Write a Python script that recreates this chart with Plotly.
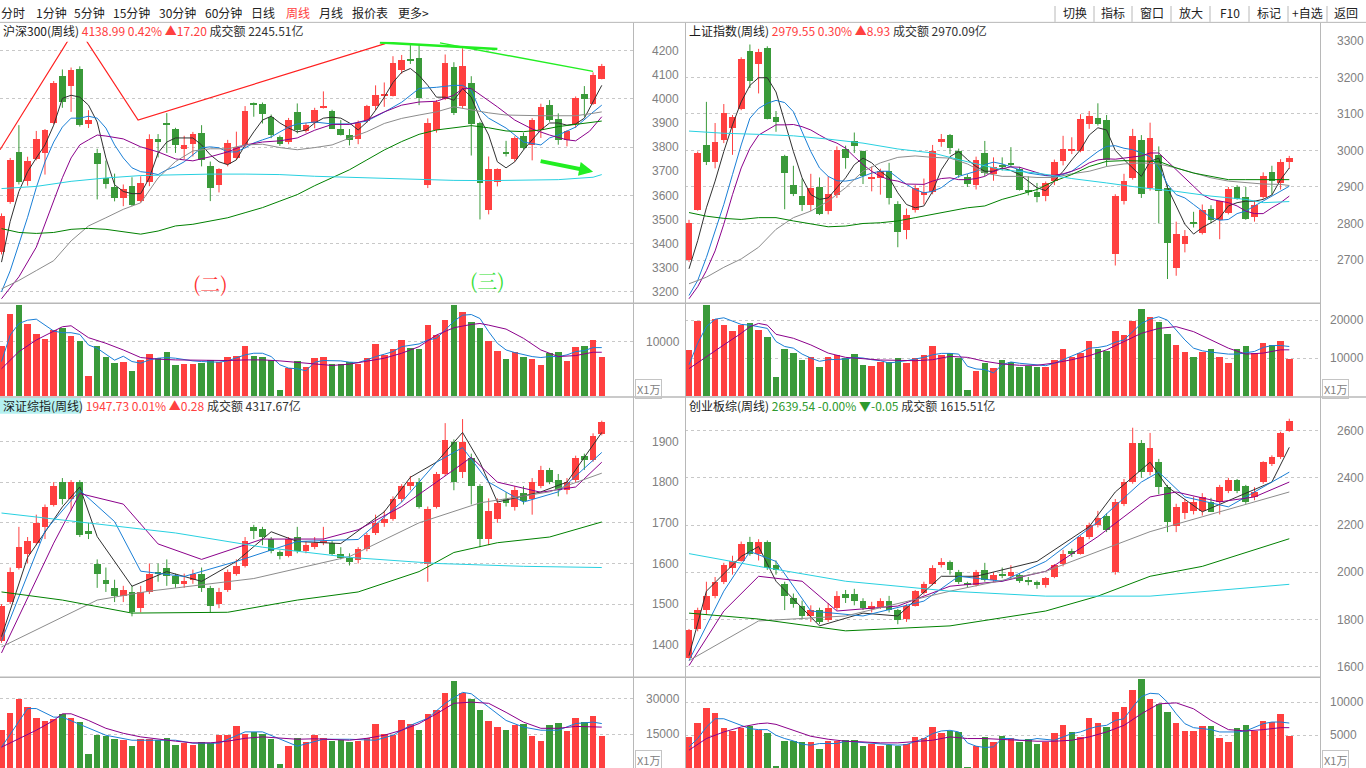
import plotly.graph_objects as go

W, H = 1366, 768
UP, DOWN = "#ff4040", "#3a9a3a"
MA_COLORS = ["#303030", "#1a7fd6", "#8b008b", "#8c8c8c", "#008000", "#28d0e0"]
VMA_COLORS = ["#1a7fd6", "#8b008b"]
GRID = "#c8c8c8"
FRAME = "#b8b8b8"
LABEL = "#808080"
CJK = "Noto Sans CJK SC"
NUM = "Liberation Sans"

IDX = list(range(70))

# ---------------- 沪深300 (weekly) ----------------
tl_open = [3365,3575,3782,3661,3751,3775,3901,4097,4056,4127, 3897,3775,3675,3636,3592,3640,3576,3656,3834,3900,
           3875,3793,3814,3858,3724,3644,3730,3754,3809,3983, 3981,3928,3842,3823,3946,3867,3902,3967,3949,3875,
           3850,3834,3908,3971,4015,4015,4122,4168,4171,3642, 3871,4001,4134,3970,4065,3901,3542,3658,3782,3751,
           3847,3809,3871,3974,3916,3830,3898,4023,3981,4084]
tl_high = [3525,3755,3891,3760,3867,3875,4074,4122,4130,4135, 3953,3793,3744,3690,3645,3675,3679,3853,3854,3941,
           3880,3847,3863,3891,3740,3712,3830,3864,3970,3985, 3985,3935,3848,3921,3981,3900,3963,4031,3955,3912,
           3875,3910,3975,4056,4068,4177,4182,4223,4228,3919, 3995,4184,4152,4210,4094,3905,3761,3712,3826,3845,
           3860,3920,3980,3995,3940,3870,4010,4053,4110,4145]
tl_low = [3355,3565,3645,3640,3745,3686,3895,3963,3946,3885, 3879,3583,3628,3575,3555,3555,3570,3638,3757,3776,
          3776,3751,3761,3720,3576,3612,3720,3747,3795,3926, 3898,3837,3805,3812,3857,3860,3878,3960,3875,3848,
          3807,3812,3900,3953,3967,4010,4104,4145,3974,3630, 3860,3995,3933,3960,3765,3500,3521,3637,3761,3740,
          3790,3745,3838,3905,3810,3803,3880,3926,3975,4081]
tl_close = [3517,3747,3658,3743,3834,3871,4065,3990,4122,3891, 3912,3732,3650,3592,3628,3562,3653,3834,3826,3891,
            3809,3809,3857,3747,3633,3710,3820,3801,3949,3977, 3937,3850,3814,3912,3871,3894,3953,3973,3878,3850,
            3830,3902,3970,4019,4022,4148,4163,4158,4004,3900, 3987,4152,3944,4138,3896,3654,3710,3710,3771,3837,
            3798,3912,3967,3912,3830,3867,4004,4001,4101,4139]
tl_vol = [9150,15090,16730,13270,11450,10550,12180,12490,11030,10180, 3760,9270,7270,6180,6360,4540,6670,7820,7030,8180,
          5820,6000,6000,6180,6600,6300,7270,7450,9270,7390, 7210,6670,1090,5150,6480,5390,7090,7210,6000,6000,
          6300,5880,7090,9640,7640,8730,10360,8910,8730,13090, 11150,14000,16730,15450,13640,12550,10060,8360,6910,8180,
          7270,6910,5820,8000,8180,6550,9090,9270,10360,7270]
tl_ma5 = [3323,3492,3616,3698,3755,3809,3891,4002,4015,4007, 3974,3904,3755,3644,3616,3607,3607,3673,3776,3821,
          3838,3838,3838,3809,3768,3739,3727,3747,3809,3863, 3912,3928,3900,3879,3863,3871,3900,3920,3924,3920,
          3900,3871,3904,3953,4007,4068,4110,4126,4097,4056, 4007,4007,3994,4043,4007,3920,3850,3739,3714,3739,
          3788,3830,3871,3900,3900,3891,3896,3920,3986,4056]
tl_ma10_x = list(range(37)) + [38,40,42,44,46,48,50,52,53,54,55,56,58,60,62,63,64,66,68,69]
tl_ma10 = [3200,3287,3398,3509,3632,3739,3821,3883,3920,3920, 3928,3920,3879,3809,3755,3714,3698,3694,3686,3706,
           3719,3739,3768,3797,3801,3797,3780,3780,3797,3817, 3830,3842,3863,3883,3896,3900,3904,
           3896,3896,3908,3945,3986,4043,4048,4056,4056,4035,3953,3920,3879,3821,3809,3838,3850,3883,3945,3974]
tl_ma20_x = [0,2,4,6,7,8,9,10,11,12,14,16,18,20,22,24,26,28,30,32,34,36,38,40,42,44,46,48,50,52,
             53,54,55,57,59,61,63,65,66,67.6,69]
tl_ma20 = [3171,3262,3385,3575,3673,3755,3809,3830,3850,3846,3834,3801,3780,3751,3743,3760,3780,3809,3821,3826,
           3838,3870,3894,3894,3912,3946,3974,3987,3990,4015,4042,4043,4018,3967,3912,3875,3850,3830,3826,3866,3926]
EVEN_X = list(range(0, 70, 2)) + [69]
tl_ma30 = [3212,3247,3288,3329,3411,3473,3507,3542,3569,3672,3740,3784,3793,3793,3809,3812,3798,3789,3798,3809,
           3837,3864,3898,3919,3933,3946,3967,3953,3942,3933,3930,3930,3930,3930,3940,3946]
tl_ma60 = [3462,3446,3442,3446,3459,3463,3459,3448,3439,3452,3473,3480,3493,3507,3528,3549,3576,3603,3640,3672,
           3706,3747,3788,3823,3853,3871,3880,3889,3880,3867,3864,3871,3885,3894,3905,3908]
QUAD_X = list(range(0, 70, 4)) + [69]
tl_ma120 = [3628,3637,3658,3672,3682,3686,3688,3688,3686,3679,3675,3669,3665,3662,3661,3662,3665,3675,3686]
tl_vma5 = [6300,11150,13270,13870,14060,12970,11880,11580,11580,11270, 9330,8730,7640,6550,7270,6300,6000,6600,6910,7030,
           6910,6600,6420,6300,6180,6180,6420,7030,7520,7820, 7820,7210,5700,5090,4970,4610,6180,6480,6420,6420,
           6180,6120,6600,7210,7640,8120,9030,9330,9520,10240, 10550,12060,13700,14790,14910,14180,11760,9640,8420,7940,
           7520,7210,7030,7210,7210,7520,8120,8300,8850,8850]
tl_vma10_x = [0,2,4,6,7,8,10,12,14,16,18,20,22,24,26,28,30,32,34,36,38,40,42,44,46,48,50,52,54,55,56,58,60,62,64,66,68,69]
tl_vma10 = [4970,8120,10240,11880,12670,12850,10670,9640,8420,7030,6730,6600,6550,6550,6480,6600,6600,6420,6120,5820,
            5580,5820,6420,6910,7820,9030,11150,12490,13090,13270,12970,12240,10550,8420,7210,7390,8000,8000]
# hand-drawn marks on the 沪深300 window
tl_red_path_x = [-0.17, 8.67, 15.7, 44.1]
tl_red_path_y = [3789, 4301, 3912, 4229]
tl_green_top_x = [43.5, 57.0]
tl_green_top_y = [4234, 4207]
tl_green_down_x = [50.4, 68.0]
tl_green_down_y = [4232, 4114]
tl_arrow_x = [61.8, 68.0]
tl_arrow_y = [3743, 3698]
tl_marks = [("(二)", 24.0, 3233, "#ff3030"), ("(三)", 55.9, 3245, "#33e033")]

# ---------------- 上证指数 (weekly) ----------------
tr_open = [2701,2839,3015,2968,3029,3061,3115,3273,3237,3280, 3092,2985,2907,2875,2852,2900,2834,2879,3004,3026,
           2999,2924,2926,2945,2855,2782,2837,2878,2888,3024, 3042,2999,2929,2907,2994,2936,2960,2967,2950,2891,
           2886,2875,2916,2972,3000,2999,3072,3090,3083,2716, 2861,2926,3029,2899,2988,2898,2680,2744,2805,2775,
           2841,2811,2830,2900,2873,2818,2872,2943,2911,2968]
tr_high = [2810,2997,3133,3075,3127,3097,3255,3290,3278,3285, 3108,2988,2958,2923,2936,2926,2929,3011,3013,3049,
           2999,2956,2950,2966,2861,2841,2905,2923,3015,3045, 3045,3005,2935,2983,3026,2981,2981,3009,2955,2929,
           2911,2915,2975,3040,3036,3099,3108,3129,3097,2880, 2936,3059,3042,3076,3011,2905,2805,2782,2832,2852,
           2850,2862,2900,2905,2900,2863,2940,2958,2976,2985]
tr_low = [2695,2835,2960,2951,3020,2988,3110,3171,3156,3085, 3051,2839,2875,2834,2834,2823,2825,2870,2950,2993,
          2908,2888,2879,2852,2735,2757,2830,2852,2880,3010, 2990,2925,2900,2893,2930,2917,2945,2955,2890,2877,
          2858,2861,2905,2959,2990,2995,3059,3068,2956,2685, 2852,2920,2870,2890,2800,2648,2657,2721,2789,2770,
          2800,2757,2825,2865,2810,2805,2868,2879,2893,2950]
tr_close = [2802,2993,2970,3024,3104,3092,3251,3192,3271,3088, 3079,2940,2881,2852,2899,2827,2882,3002,2981,3013,
            2932,2928,2945,2870,2778,2825,2899,2888,2999,3033, 3008,2934,2908,2974,2938,2956,2957,2962,2893,2887,
            2872,2911,2970,3004,3006,3086,3095,3074,2974,2877, 2917,3040,2881,3035,2890,2746,2773,2766,2800,2839,
            2809,2861,2896,2868,2814,2852,2932,2918,2970,2980]
tr_vol = [12170,20000,24100,20440,18880,17130,18700,19400,17390,15670, 5220,12610,11310,9560,10260,7650,10440,10860,10000,11040,
          8250,7910,9140,8960,10000,8690,10180,10860,13210,10860, 11310,10000,1720,6680,8690,7390,9480,8960,7830,8090,
          7830,7830,9560,12610,10440,11310,14520,12610,11910,17130, 16080,20000,23050,21040,19580,16530,13660,11750,10440,11750,
          12350,10440,8690,12350,13310,11310,14180,13470,14700,9740]
tr_ma5 = [2676,2753,2843,2916,2997,3070,3133,3178,3199,3199, 3160,3079,2997,2925,2879,2866,2870,2898,2925,2961,
          2979,2966,2943,2925,2884,2852,2843,2848,2888,2947, 2983,2997,2975,2956,2943,2943,2952,2945,2934,2916,
          2898,2890,2916,2943,2974,3002,3042,3062,3056,3000, 2975,2952,2929,2970,2979,2898,2848,2798,2771,2789,
          2802,2816,2848,2857,2861,2861,2866,2878,2920,2952]
tr_ma10 = [2603,2644,2707,2780,2852,2934,3015,3088,3115,3129, 3137,3131,3106,3051,2997,2952,2929,2917,2916,2920,
           2929,2938,2943,2943,2925,2907,2893,2884,2888,2898, 2916,2929,2936,2943,2961,2968,2963,2956,2947,2938,
           2934,2931,2929,2934,2943,2961,2979,2997,3011,3013, 3006,3002,2993,2983,2952,2907,2879,2870,2852,2834,
           2816,2809,2811,2827,2834,2848,2861,2875,2888,2902]
tr_ma20 = [2594,2627,2671,2725,2798,2879,2952,3006,3042,3056, 3070,3070,3071,3065,3056,3042,3029,3020,3006,2983,
           2961,2943,2929,2920,2916,2908,2907,2907,2916,2923, 2925,2920,2920,2923,2929,2943,2950,2955,2954,2947,
           2938,2932,2932,2936,2943,2952,2966,2974,2977,2976, 2979,2983,2985,2993,2993,2970,2947,2925,2902,2879,
           2866,2861,2857,2848,2834,2827,2827,2843,2857,2875]
tr_ma30 = [2635,2653,2680,2703,2735,2784,2816,2834,2861,2898,2943,2966,2981,2985,2981,2979,2963,2938,2929,2929,
           2926,2926,2936,2943,2956,2963,2966,2963,2952,2938,2925,2916,2911,2908,2907,2904]
tr_ma60 = [2830,2820,2814,2811,2816,2816,2807,2798,2791,2793,2800,2802,2807,2816,2825,2834,2843,2848,2866,2879,
           2893,2916,2934,2956,2970,2972,2972,2970,2952,2938,2929,2920,2920,2920,2920,2920]
tr_ma120_x = [0,4,8,12,16,20,24,28,32,36,40,44,48,52,56,60,64,66,69]
tr_ma120 = [3053,3047,3044,3040,3031,3020,3004,2993,2969,2947,2938,2923,2911,2898,2888,2875,2866,2857,2860]
tr_vma5 = [8250,13920,18280,20260,20630,19740,18880,18700,18280,17830, 14360,13050,12610,11040,10000,9140,9560,9560,9740,10180,
           10000,9560,9300,8690,8960,9300,9740,10180,10860,11230, 11230,11040,7830,7130,6950,6080,8250,8960,8620,8430,
           8250,7990,8620,9560,10440,11490,12610,12790,13210,14180, 14780,16970,19140,20260,20890,20000,17390,14780,12610,11910,
           11570,11310,11040,11040,11310,11750,12790,13310,13310,13050]
tr_vma10_x = [0,2,4,6,7,8,9,10,12,14,16,18,20,22,24,26,28,30,32,34,36,38,40,42,44,46,48,50,52,54,56,58,60,62,64,66,68,69]
tr_vma10 = [7210,10440,13470,16530,18280,19140,18700,16270,15220,13470,11310,10180,9820,9480,9400,9300,9560,10440,
            10180,9140,8430,8090,8090,8690,9560,10600,12170,14360,16530,17830,18280,16970,14780,12610,11040,11310,12170,12170]

# ---------------- 深证综指 (weekly) ----------------
bl_open = [1410,1507,1590,1625,1650,1690,1745,1800,1760,1800, 1680,1600,1560,1540,1520,1530,1490,1530,1580,1590,
           1570,1550,1560,1575,1540,1500,1535,1575,1595,1690, 1685,1660,1628,1620,1665,1630,1640,1650,1650,1625,
           1615,1610,1635,1675,1700,1710,1760,1790,1800,1600, 1740,1820,1900,1825,1860,1790,1660,1710,1760,1740,
           1775,1760,1790,1830,1805,1780,1805,1865,1855,1920]
bl_high = [1500,1590,1690,1665,1720,1745,1800,1810,1805,1805, 1700,1610,1590,1560,1545,1545,1545,1600,1600,1610,
           1575,1575,1585,1590,1545,1540,1585,1610,1665,1695, 1690,1665,1632,1665,1690,1655,1665,1690,1655,1640,
           1625,1640,1675,1720,1730,1765,1795,1815,1810,1740, 1825,1945,1905,1955,1870,1795,1760,1760,1775,1790,
           1790,1810,1840,1835,1820,1810,1865,1870,1920,1951]
bl_low = [1405,1500,1585,1600,1645,1660,1740,1745,1730,1665, 1660,1540,1530,1505,1505,1470,1480,1525,1555,1545,
          1540,1540,1550,1530,1480,1490,1530,1570,1590,1660, 1645,1625,1610,1615,1625,1625,1635,1645,1620,1610,
          1595,1600,1630,1670,1690,1705,1750,1780,1735,1555, 1735,1815,1780,1810,1745,1640,1645,1700,1740,1730,
          1745,1720,1785,1795,1765,1770,1800,1830,1850,1915]
bl_close = [1495,1580,1640,1655,1700,1740,1790,1760,1800,1670, 1672,1575,1550,1520,1535,1480,1530,1575,1575,1570,
            1550,1558,1575,1540,1495,1530,1580,1595,1655,1680, 1665,1630,1618,1660,1630,1645,1650,1655,1625,1615,
            1605,1635,1670,1700,1710,1760,1790,1800,1740,1735, 1820,1905,1800,1900,1790,1660,1730,1750,1750,1780,
            1755,1800,1830,1800,1780,1800,1860,1855,1915,1948]
bl_vol = [17080,23880,30000,26670,22080,20830,21530,23610,21810,20140, 6670,15000,14580,13330,12920,10000,13330,13330,12920,13750,
          10420,11250,10420,11670,11250,15000,15000,18750,15420,16110, 15420,13000,2500,10000,13750,11700,15000,13750,12100,12900,
          11700,12100,13750,19600,15400,15000,21250,19600,17000,23750, 25400,32300,37500,32300,30000,25400,20800,18300,17100,19200,
          19600,14600,12500,19200,20000,16700,22100,20400,22900,14200]
bl_ma5_x = [0,3,7,9,11,15,19,23,27,31,34,39,44,47,50,53,55,57,62,65,69]
bl_ma5 = [1420,1615,1739,1788,1666,1544,1580,1556,1605,1678,1654,1649,1727,1812,1849,1922,1849,1751,1776,1800,1922]
bl_ma10_x = [0,5,9,13,16,21,27,34,41,46,50,53,56,60,64,69]
bl_ma10 = [1410,1680,1780,1703,1581,1568,1605,1654,1659,1751,1849,1885,1800,1751,1776,1873]
bl_ma20_x = [0,6,9,14,18,23,30,37,41,46,50,54,57,62,66,69]
bl_ma20 = [1380,1650,1772,1746,1648,1610,1660,1660,1683,1740,1800,1861,1800,1775,1788,1849]
bl_ma30_x = [0,11,17,29,40,48,55,63,69]
bl_ma30 = [1395,1510,1532,1563,1617,1700,1749,1776,1822]
bl_ma60_x = [0,7,15,26,34,41,48,52,57,63,69]
bl_ma60 = [1530,1510,1478,1480,1510,1530,1580,1627,1651,1665,1702]
bl_ma120_x = [0,10,20,30,40,50,60,69]
bl_ma120 = [1724,1700,1675,1640,1615,1600,1593,1590]
bl_vma5_x = [0,3,4,6,7,12,15,20,22,25,28,30,34,37,40,43,45,47,49,51,53,54,56,58,60,62,64,66,68,69]
bl_vma5 = [9580,25800,25800,22200,22200,14580,12500,12500,11250,11250,16000,16000,10000,12900,12900,12500,14580,
           18750,21700,28000,32600,32000,26400,20800,18000,16700,16700,19500,20100,19500]
bl_vma10_x = [0,2,4,6,7,8,10,12,14,16,18,20,22,24,26,28,30,32,34,36,38,40,42,44,46,48,50,52,54,56,58,60,62,64,66,68,69]
bl_vma10 = [9580,13300,16700,20800,23600,23600,20800,17500,15400,13900,12900,12100,11400,11400,12100,13300,13900,13300,
            12900,13100,12900,12500,13300,14600,16700,19500,23600,28000,28500,28000,24200,20100,17500,17500,18300,18000,18000]

# ---------------- 创业板综 (weekly) ----------------
br_open = [1640,1760,1840,1900,1960,2020,2050,2130,2080,2130, 2030,1950,1890,1860,1815,1840,1800,1850,1910,1910,
           1880,1845,1855,1880,1840,1805,1860,1915,1950,2030, 2045,2000,1955,1945,2010,1970,1995,1985,1990,1965,
           1960,1945,1980,2035,2090,2080,2150,2200,2240,2000, 2290,2382,2550,2424,2466,2361,2195,2250,2260,2260,
           2300,2300,2345,2390,2365,2320,2385,2460,2490,2600]
br_high = [1760,1850,1960,1980,2040,2070,2130,2150,2140,2135, 2050,1960,1910,1880,1860,1850,1870,1920,1925,1930,
           1890,1875,1890,1900,1845,1865,1925,1960,2030,2060, 2050,2010,1960,2010,2040,2000,2020,2030,1995,1980,
           1965,1980,2035,2095,2100,2155,2210,2260,2250,2310, 2395,2612,2560,2590,2480,2370,2290,2310,2320,2335,
           2315,2370,2400,2395,2370,2360,2470,2495,2595,2650]
br_low = [1635,1750,1820,1890,1950,1990,2045,2070,2050,2010, 1990,1840,1850,1800,1790,1780,1790,1840,1870,1860,
          1840,1830,1845,1830,1780,1790,1855,1905,1945,2020, 1990,1950,1935,1940,1960,1960,1975,1975,1955,1945,
          1930,1935,1975,2025,2065,2075,2140,2190,2170,1990, 2280,2375,2400,2410,2330,2170,2170,2225,2245,2240,
          2285,2245,2335,2335,2290,2305,2375,2450,2480,2595]
br_close = [1755,1840,1900,1960,2030,2050,2120,2080,2130,2020, 2010,1900,1865,1815,1840,1790,1850,1900,1890,1880,
            1850,1860,1880,1840,1800,1860,1920,1950,2020,2045, 2010,1960,1945,2000,1970,1990,1985,2000,1965,1960,
            1945,1975,2030,2080,2080,2150,2200,2230,2180,2300, 2382,2550,2424,2529,2361,2214,2277,2298,2298,2319,
            2256,2361,2390,2345,2300,2340,2466,2487,2592,2640]
br_vol = [4845,6840,9090,8340,6090,5640,6090,6390,5850,5340, 345,4140,4140,3990,3990,2895,4140,4245,4395,4395,
          3345,3645,3345,3495,3345,3645,4845,4695,6345,5340, 5745,5595,300,3345,4845,4095,4995,4650,3990,4500,
          3645,3990,5340,6645,5595,4845,7695,6840,6240,8595, 9345,11895,13545,10545,9750,8595,6945,5745,5745,6495,
          6495,4695,3990,6195,6645,5745,7245,7095,8295,4995]
br_ma5_x = [0,2,6,8,10,15,20,24,29,33,40,46,49,53,55,59,63,67,69]
br_ma5 = [1647,1920,2067,2109,1962,1773,1827,1815,1983,1983,2046,2193,2340,2466,2361,2256,2319,2382,2529]
br_ma10_x = [0,4,7,10,14,20,27,31,36,41,47,52,54,57,62,65,69]
br_ma10 = [1626,1920,2088,2046,1836,1815,1878,1983,1962,2046,2214,2382,2424,2319,2277,2340,2424]
br_ma20_x = [0,4,8,13,17,24,30,36,41,47,53,56,61,65,69]
br_ma20 = [1605,1836,1983,1962,1836,1857,1941,1962,2004,2151,2319,2340,2298,2319,2382]
br_ma30_x = [0,8,18,30,41,47,53,59,69]
br_ma30 = [1626,1794,1815,1920,2004,2088,2172,2235,2340]
br_ma60_x = [0,8,18,30,41,47,53,59,69]
br_ma60 = [1827,1802,1752,1773,1836,1899,1983,2025,2142]
br_ma120_x = [0,8,18,30,41,53,69]
br_ma120 = [2079,2025,1962,1920,1899,1899,1949]
br_vma5 = [3245,4500,6240,7495,7495,7000,6495,5995,5850,5850, 4995,4500,4140,3645,3495,3745,3745,3745,4095,3990,
           3845,3745,3645,3495,3495,3595,3990,4500,5245,5645, 5745,5495,3845,3345,3145,3245,4500,4500,4245,4245,
           4500,4350,4245,4745,5245,5495,5995,6345,6495,7245, 7495,9250,10845,11345,11245,9995,8245,6745,6145,5995,
           5850,5495,5495,5495,5645,6245,6745,6995,6995,6845]
br_vma10_x = [0,2,4,6,8,9,10,12,14,16,18,20,22,24,26,28,30,32,34,36,38,40,42,44,46,48,50,52,54,56,58,60,62,64,66,68,69]
br_vma10 = [2745,4500,5495,6245,6745,6845,6645,5745,4845,4395,4095,3990,3845,3845,3990,4245,4745,4500,4500,4350,
            4245,4095,4095,4245,4745,5495,6495,8245,9745,9895,8995,7245,5850,5645,5850,6145,6145]

# ---------------- headers ----------------
titles = [
    ("沪深300(周线)", "4138.99 0.42% ▲17.20", "2245.51亿", UP),
    ("上证指数(周线)", "2979.55 0.30% ▲8.93", "2970.09亿", UP),
    ("深证综指(周线)", "1947.73 0.01% ▲0.28", "4317.67亿", UP),
    ("创业板综(周线)", "2639.54 -0.00% ▼-0.05", "1615.51亿", "#2e9a2e"),
]
price_ticks = [list(range(3200, 4201, 100)), list(range(2700, 3301, 100)),
               list(range(1400, 1901, 100)), list(range(1600, 2601, 200))]
price_grid = [list(range(3200, 4201, 200)), list(range(2700, 3201, 100)),
              list(range(1400, 1901, 100)), list(range(1600, 2601, 200))]
vol_ticks = [[10000], [10000, 20000], [15000, 30000], [5000, 10000]]
tabs = ["分时", "1分钟", "5分钟", "15分钟", "30分钟", "60分钟", "日线", "周线", "月线", "报价表", "更多>"]
tab_centers = [13, 51, 89, 131, 177, 223, 263, 298, 331, 370, 413]
buttons = ["切换", "指标", "窗口", "放大", "F10", "标记", "+自选", "返回"]
button_edges = [1055, 1094, 1132, 1171, 1210, 1249, 1288, 1327, 1364]

# panel geometry in screen pixels
geo = [
    dict(x=(0, 633), p=(36, 298), v=(300, 393), xr=(-0.172, 72.59), pr=(3159, 4237), vr=(0, 16900), tx=1, ty=25, sp=18, sv=12, by=386),
    dict(x=(685, 1320), p=(34, 298), v=(300, 393), xr=(-0.46, 72.53), pr=(2586, 3303), vr=(0, 24360), tx=687, ty=25, sp=16, sv=9, by=386),
    dict(x=(0, 633), p=(411, 675), v=(677, 768), xr=(-0.172, 72.59), pr=(1324, 1968), vr=(833, 38750), tx=1, ty=403, sp=18, sv=12, by=760),
    dict(x=(685, 1320), p=(411, 675), v=(677, 768), xr=(-0.46, 72.53), pr=(1562, 2671), vr=(45, 13700), tx=687, ty=403, sp=16, sv=9, by=760),
]


def fx(px):
    return px / W


def fy(px):
    return 1 - px / H


def sid(n):
    return "" if n == 1 else str(n)


fig = go.Figure()
layout = dict(width=W, height=H, margin=dict(l=0, r=0, t=0, b=0), paper_bgcolor="white",
              plot_bgcolor="white", showlegend=False, barmode="overlay", bargap=0,
              font=dict(family=CJK, size=12, color="#222"))
shapes, annotations = [], []


def draw_panel(k, o, h, l, c, vol, mas, vmas, g):
    npx, nvx = 2 * k + 1, 2 * k + 2
    xa, ya = "x" + sid(npx), "y" + sid(npx)
    xv, yv = "x" + sid(nvx), "y" + sid(nvx)
    for n, (yd, yr, ticks, grid, so) in ((npx, (g["p"], g["pr"], price_ticks[k], price_grid[k], g["sp"])),
                                          (nvx, (g["v"], g["vr"], vol_ticks[k], vol_ticks[k], g["sv"]))):
        layout["xaxis" + sid(n)] = dict(domain=[fx(g["x"][0]), fx(g["x"][1])], range=list(g["xr"]),
                                         visible=False, anchor="y" + sid(n), fixedrange=True)
        layout["yaxis" + sid(n)] = dict(
            domain=[fy(yd[1]), fy(yd[0])], range=list(yr), side="right", anchor="x" + sid(n),
            tickmode="array", tickvals=ticks, ticktext=[str(t) for t in ticks], ticks="",
            showgrid=False, zeroline=False, showline=False, fixedrange=True,
            tickfont=dict(family=NUM, size=12, color=LABEL), ticklabelstandoff=so,
            minor=dict(tickmode="array", tickvals=grid, showgrid=True, gridcolor=GRID,
                       griddash="dot", gridwidth=1, ticks=""))

    up = [c[i] >= o[i] for i in IDX]
    colors = [UP if u else DOWN for u in up]
    unit = (g["pr"][1] - g["pr"][0]) / (g["p"][1] - g["p"][0])
    for flag, col in ((True, UP), (False, DOWN)):
        wx, wy = [], []
        for i in IDX:
            if up[i] == flag:
                wx += [i, i, None]
                wy += [l[i], h[i], None]
        fig.add_trace(go.Scatter(x=wx, y=wy, mode="lines", line=dict(color=col, width=1),
                                 xaxis=xa, yaxis=ya, hoverinfo="skip"))
    fig.add_trace(go.Bar(x=IDX, y=[max(abs(c[i] - o[i]), unit) for i in IDX],
                         base=[min(o[i], c[i]) for i in IDX], width=0.76,
                         marker=dict(color=colors, line=dict(width=0)), xaxis=xa, yaxis=ya, hoverinfo="skip"))
    for (mx, my), col in zip(mas, MA_COLORS):
        fig.add_trace(go.Scatter(x=mx, y=my, mode="lines", line=dict(color=col, width=1),
                                 xaxis=xa, yaxis=ya, hoverinfo="skip"))
    fig.add_trace(go.Bar(x=IDX, y=vol, width=0.75, marker=dict(color=colors, line=dict(width=0)),
                         xaxis=xv, yaxis=yv, hoverinfo="skip"))
    for (mx, my), col in zip(vmas, VMA_COLORS):
        fig.add_trace(go.Scatter(x=mx, y=my, mode="lines", line=dict(color=col, width=1),
                                 xaxis=xv, yaxis=yv, hoverinfo="skip"))

    name, quote, amount, qcol = titles[k]
    annotations.append(dict(
        xref="paper", yref="paper", x=fx(g["tx"]), y=fy(g["ty"]), xanchor="left", yanchor="middle",
        showarrow=False, font=dict(family=CJK, size=12, color="#1a1a1a"),
        text=f'{name} <span style="color:{qcol}">{quote}</span> <span style="color:#333">成交额 {amount}</span>'))
    annotations.append(dict(
        xref="paper", yref="paper", x=fx(g["x"][1] + 2), y=fy(g["by"]), xanchor="left", yanchor="middle",
        showarrow=False, text="X1万", font=dict(family=CJK, size=11, color=LABEL),
        bordercolor="#c4c4c4", borderwidth=1, borderpad=1))


draw_panel(0, tl_open, tl_high, tl_low, tl_close, tl_vol,
           [(IDX, tl_ma5), (tl_ma10_x, tl_ma10), (tl_ma20_x, tl_ma20), (EVEN_X, tl_ma30),
            (EVEN_X, tl_ma60), (QUAD_X, tl_ma120)],
           [(IDX, tl_vma5), (tl_vma10_x, tl_vma10)], geo[0])
draw_panel(1, tr_open, tr_high, tr_low, tr_close, tr_vol,
           [(IDX, tr_ma5), (IDX, tr_ma10), (IDX, tr_ma20), (EVEN_X, tr_ma30),
            (EVEN_X, tr_ma60), (tr_ma120_x, tr_ma120)],
           [(IDX, tr_vma5), (tr_vma10_x, tr_vma10)], geo[1])
draw_panel(2, bl_open, bl_high, bl_low, bl_close, bl_vol,
           [(bl_ma5_x, bl_ma5), (bl_ma10_x, bl_ma10), (bl_ma20_x, bl_ma20), (bl_ma30_x, bl_ma30),
            (bl_ma60_x, bl_ma60), (bl_ma120_x, bl_ma120)],
           [(bl_vma5_x, bl_vma5), (bl_vma10_x, bl_vma10)], geo[2])
draw_panel(3, br_open, br_high, br_low, br_close, br_vol,
           [(br_ma5_x, br_ma5), (br_ma10_x, br_ma10), (br_ma20_x, br_ma20), (br_ma30_x, br_ma30),
            (br_ma60_x, br_ma60), (br_ma120_x, br_ma120)],
           [(IDX, br_vma5), (br_vma10_x, br_vma10)], geo[3])

# hand-drawn trend lines on 沪深300
for xs, ys, col, wd in ((tl_red_path_x, tl_red_path_y, "#ff2020", 1.2),
                        (tl_green_top_x, tl_green_top_y, "#22ee22", 2.5),
                        (tl_green_down_x, tl_green_down_y, "#22ee22", 1.4)):
    fig.add_trace(go.Scatter(x=xs, y=ys, mode="lines", line=dict(color=col, width=wd),
                             xaxis="x", yaxis="y", hoverinfo="skip"))
annotations.append(dict(xref="x", yref="y", axref="x", ayref="y", x=tl_arrow_x[1], y=tl_arrow_y[1],
                        ax=tl_arrow_x[0], ay=tl_arrow_y[0], text="", showarrow=True, arrowhead=2,
                        arrowsize=0.7, arrowwidth=4, arrowcolor="#22ee22"))
for txt, mx, my, col in tl_marks:
    annotations.append(dict(xref="x", yref="y", x=mx, y=my, text=txt, showarrow=False,
                            font=dict(family="Noto Serif CJK SC, Noto Sans CJK SC", size=20, color=col)))

# toolbar
for t, cx in zip(tabs, tab_centers):
    annotations.append(dict(xref="paper", yref="paper", x=fx(cx), y=fy(7), text=t, showarrow=False,
                            xanchor="center", yanchor="middle",
                            font=dict(family=CJK, size=12, color=UP if t == "周线" else "#222")))
for t, a, b in zip(buttons, button_edges[:-1], button_edges[1:]):
    annotations.append(dict(xref="paper", yref="paper", x=fx((a + b) / 2), y=fy(7), text=t, showarrow=False,
                            xanchor="center", yanchor="middle", font=dict(family=CJK, size=12, color="#222")))
    shapes.append(dict(type="line", xref="paper", yref="paper", x0=fx(a), x1=fx(a), y0=fy(0), y1=fy(16),
                       line=dict(color=FRAME, width=1)))


def hline(y, x0, x1, w=1):
    shapes.append(dict(type="line", xref="paper", yref="paper", x0=fx(x0), x1=fx(x1), y0=fy(y), y1=fy(y),
                       line=dict(color=FRAME, width=w)))


def vline(x, y0, y1, w=1):
    shapes.append(dict(type="line", xref="paper", yref="paper", x0=fx(x), x1=fx(x), y0=fy(y0), y1=fy(y1),
                       line=dict(color=FRAME, width=w)))


hline(16.5, 0, W)
hline(299.5, 0, 1320, 1.5)
hline(394, 0, W, 1.5)
hline(676.5, 0, 1320, 1.5)
vline(633.5, 17, H)
vline(685.5, 17, H)
vline(1320.5, 17, H)
# highlight of the active window name
shapes.append(dict(type="rect", xref="paper", yref="paper", x0=fx(0), x1=fx(81), y0=fy(411), y1=fy(395),
                   fillcolor="#b4f0f0", line=dict(width=0), layer="below"))

layout["shapes"] = shapes
layout["annotations"] = annotations
fig.update_layout(**layout)
# the page itself must not add a margin around the 1366x768 figure
fig.write_html("out.html", config={"displayModeBar": False},
               post_script="document.body.style.margin='0';document.body.style.overflow='hidden';")
